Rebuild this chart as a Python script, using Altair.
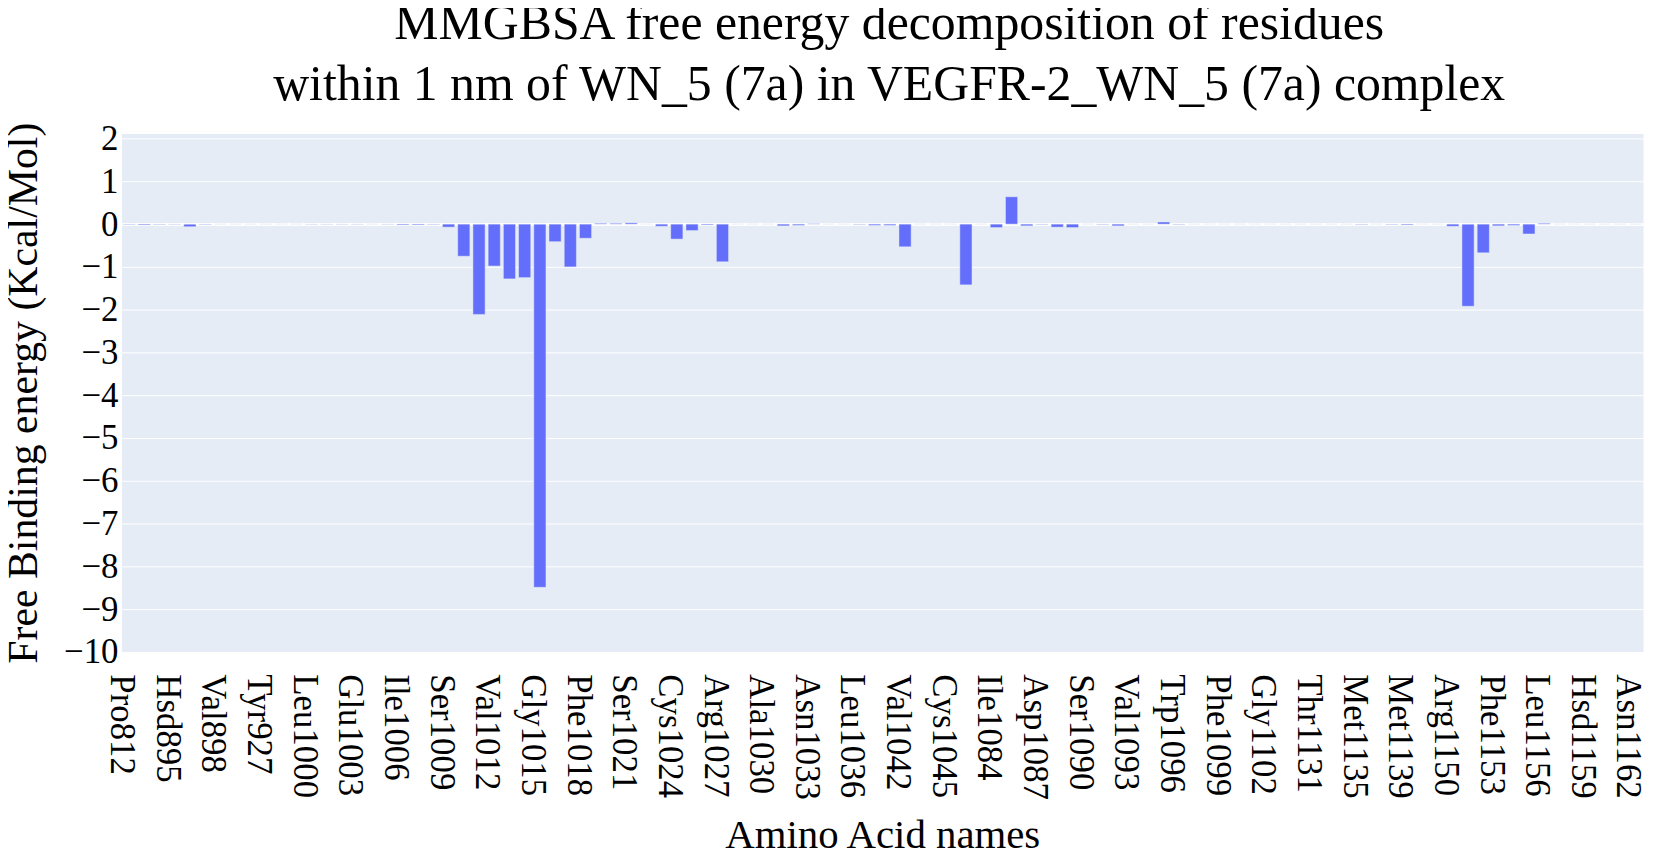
import altair as alt
import pandas as pd

residues = [
    "Pro812", "Lys868", "Glu885",
    "Hsd895", "Ile896", "Gly897",
    "Val898", "Val899", "Val916",
    "Tyr927", "Lys998", "Gly999",
    "Leu1000", "Glu1001", "Asn1002",
    "Glu1003", "Leu1004", "Lys1005",
    "Ile1006", "Leu1007", "Ile1008",
    "Ser1009", "Leu1010", "Gly1011",
    "Val1012", "His1013", "Leu1014",
    "Gly1015", "Ala1016", "Leu1017",
    "Phe1018", "Ile1019", "Arg1020",
    "Ser1021", "Gly1022", "Lys1023",
    "Cys1024", "Glu1025", "Val1026",
    "Arg1027", "Lys1028", "Gly1029",
    "Ala1030", "Val1031", "Leu1032",
    "Asn1033", "Gly1034", "Leu1035",
    "Leu1036", "Gly1038", "Asn1040",
    "Val1042", "Lys1043", "Ile1044",
    "Cys1045", "Asp1046", "Phe1047",
    "Ile1084", "Arg1085", "Lys1086",
    "Asp1087", "Pro1088", "Lys1089",
    "Ser1090", "Leu1091", "Lys1092",
    "Val1093", "Leu1094", "Glu1095",
    "Trp1096", "Met1097", "Ala1098",
    "Phe1099", "Glu1100", "Thr1101",
    "Gly1102", "Leu1104", "Ala1130",
    "Thr1131", "Ile1133", "Gly1134",
    "Met1135", "Leu1136", "Ala1138",
    "Met1139", "Lys1142", "Leu1148",
    "Arg1150", "Ala1151", "Pro1152",
    "Phe1153", "Glu1154", "Gln1155",
    "Leu1156", "Ser1157", "Ser1158",
    "Hsd1159", "Tyr1160", "Ala1161",
    "Asn1162",
]

energies = [
    -0.01, -0.02, -0.01,
    -0.01, -0.06, -0.01,
    0.0, 0.0, 0.0,
    0.0, 0.0, 0.0,
    -0.005, -0.005, -0.005,
    -0.005, 0.0, -0.005,
    -0.02, -0.02, -0.01,
    -0.07, -0.75, -2.11,
    -0.98, -1.28, -1.25,
    -8.49, -0.41, -1.00,
    -0.33, 0.02, 0.02,
    0.03, 0.0, -0.05,
    -0.35, -0.15, -0.02,
    -0.88, 0.0, 0.0,
    0.0, -0.04, -0.03,
    0.01, 0.0, 0.0,
    -0.01, -0.03, -0.03,
    -0.53, 0.0, 0.0,
    0.0, -1.42, 0.0,
    -0.08, 0.64, -0.04,
    -0.01, -0.07, -0.08,
    0.0, -0.01, -0.04,
    0.0, 0.0, 0.05,
    -0.01, 0.0, 0.0,
    0.0, 0.0, 0.0,
    0.0, 0.0, 0.0,
    0.0, 0.0, 0.0,
    -0.01, 0.0, -0.01,
    -0.02, 0.0, 0.0,
    -0.05, -1.92, -0.67,
    -0.04, -0.03, -0.23,
    0.02, 0.0, 0.0,
    0.0, 0.0, 0.0,
    0.0,
]

tick_labels = residues[::3]
y_ticks = list(range(-10, 3))

title_lines = [
    "MMGBSA free energy decomposition of residues",
    "within 1 nm of WN_5 (7a) in VEGFR-2_WN_5 (7a) complex",
]

FONT = "Liberation Serif"
W, H = 1529, 521

df = pd.DataFrame({"residue": residues, "energy": energies})

y_scale = alt.Scale(domain=[-10, 2.12], nice=False, zero=False)

x_enc = alt.X(
    "residue:N",
    sort=residues,
    scale=alt.Scale(paddingInner=0.2, paddingOuter=0.1),
    axis=alt.Axis(
        values=tick_labels,
        labelAngle=90,
        labelAlign="left",
        labelBaseline="middle",
        labelPadding=22,
        labelOffset=-7,
        labelFont=FONT,
        labelFontSize=35,
        labelColor="black",
        labelOverlap=False,
        ticks=False,
        tickSize=0,
        domain=False,
        grid=False,
        title="Amino Acid names",
        titleFont=FONT,
        titleFontSize=41,
        titleFontWeight="normal",
        titleColor="black",
        titleBaseline="alphabetic",
        titleAlign="center",
        titleX=W / 2,
        titleY=197,
    ),
)

y_enc = alt.Y(
    "energy:Q",
    scale=y_scale,
    axis=alt.Axis(
        values=y_ticks,
        format="d",
        labelFont=FONT,
        labelFontSize=35,
        labelColor="black",
        labelPadding=3.5,
        labelBaseline="middle",
        ticks=False,
        tickSize=0,
        domain=False,
        grid=True,
        gridColor="white",
        gridWidth=1,
        title="Free Binding energy (Kcal/Mol)",
        titleFont=FONT,
        titleFontSize=42,
        titleFontWeight="normal",
        titleColor="black",
        titleAngle=270,
        titleBaseline="alphabetic",
        titleAlign="center",
        titleX=-85,
        titleY=H / 2,
    ),
)

zero_line = alt.Chart(df).mark_rule(color="white", strokeWidth=2).encode(
    y=alt.datum(0, scale=y_scale)
)

bars = alt.Chart(df).mark_bar(
    color="#636EFA", stroke="#E5ECF6", strokeWidth=0.5
).encode(x=x_enc, y=y_enc)

chart = alt.layer(zero_line, bars).properties(
    width=W,
    height=H,
    padding={"left": 114, "top": 124, "right": 3, "bottom": 200},
    autosize=alt.AutoSizeParams(type="none"),
    title=alt.TitleParams(
        text=title_lines,
        font=FONT,
        fontSize=50,
        fontWeight="normal",
        color="black",
        anchor="middle",
        frame="group",
        baseline="bottom",
        lineHeight=61,
        offset=20,
        dy=58,
        dx=7,
    ),
).configure(
    background="white",
    view=alt.ViewConfig(fill="#E5ECF6", stroke="transparent"),
)

chart.save("out.html", embed_options={"renderer": "svg", "actions": False})
